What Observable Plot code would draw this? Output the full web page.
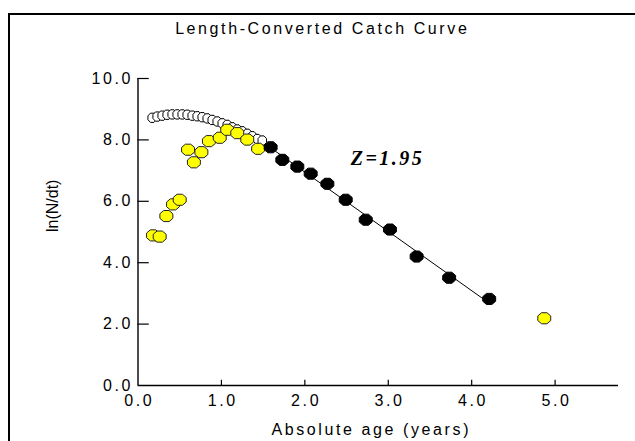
<!DOCTYPE html>
<html>
<head>
<meta charset="utf-8">
<script src="https://cdn.jsdelivr.net/npm/d3@7"></script>
<script src="https://cdn.jsdelivr.net/npm/@observablehq/plot@0.6"></script>
<style>
  html, body { margin: 0; padding: 0; background: #fff; }
  #chart svg { display: block; }
</style>
</head>
<body>
<div id="chart"></div>
<script>
// ---- data ----
const xTicks = [0, 1, 2, 3, 4, 5];
const yTicks = [0, 2, 4, 6, 8, 10];

// open (white) circles
const openAge = [0.17,0.23,0.29,0.35,0.41,0.47,0.53,0.59,0.65,0.71,0.77,0.83,0.89,0.95,1.01,1.07,1.13,1.19,1.25,1.31,1.37,1.43,1.49];
const openLn  = [8.72,8.76,8.79,8.82,8.83,8.83,8.83,8.82,8.79,8.77,8.74,8.70,8.65,8.60,8.54,8.49,8.41,8.34,8.28,8.20,8.12,8.03,7.98];

// yellow points (not used in regression)
const yellowAge = [0.18,0.26,0.34,0.42,0.50,0.60,0.67,0.76,0.85,0.98,1.07,1.19,1.31,1.44,4.87];
const yellowLn  = [4.89,4.85,5.52,5.90,6.05,7.68,7.27,7.60,7.96,8.07,8.33,8.22,8.01,7.71,2.19];

// black points (used in regression)
const blackAge = [1.59,1.73,1.91,2.07,2.27,2.49,2.73,3.02,3.34,3.73,4.21];
const blackLn  = [7.76,7.35,7.13,6.90,6.57,6.05,5.40,5.08,4.20,3.51,2.82];

const title = "Length-Converted Catch Curve";
const xLabel = "Absolute age (years)";
const yLabel = "ln(N/dt)";
const zLabel = "Z=1.95";
const zLabelAge = [2.55];
const zLabelLn = [7.40];

const openPts = openAge.map((x, i) => ({x, y: openLn[i]}));
const yellowPts = yellowAge.map((x, i) => ({x, y: yellowLn[i]}));
const blackPts = blackAge.map((x, i) => ({x, y: blackLn[i]}));

// slightly wide octagonal marker (the original bitmap markers are stretched horizontally)
function oval(rx, ry) {
  return {
    draw(ctx) {
      const n = 8;
      for (let i = 0; i < n; i++) {
        const a = (i + 0.5) * 2 * Math.PI / n;
        const px = rx * Math.cos(a), py = ry * Math.sin(a);
        if (i === 0) ctx.moveTo(px, py); else ctx.lineTo(px, py);
      }
      ctx.closePath();
    }
  };
}

const font = "'Liberation Sans', Arial, sans-serif";

const plot = Plot.plot({
  width: 635,
  height: 441,
  marginLeft: 137.5,
  marginRight: 17,
  marginTop: 78,
  marginBottom: 56,
  style: {background: "#fff", fontFamily: font, fontSize: "16px", color: "#000"},
  x: {domain: [0, 5.76], ticks: xTicks, tickFormat: d => d.toFixed(1)},
  y: {domain: [0, 10], ticks: yTicks, tickFormat: d => d.toFixed(1)},
  marks: [
    // axis lines
    Plot.ruleX([0], {y1: 0, y2: 10, stroke: "#000", strokeWidth: 1.4}),
    Plot.ruleY([0], {x1: 0, x2: 5.76, stroke: "#000", strokeWidth: 1.4}),
    // inward ticks
    Plot.ruleY(yTicks.slice(1), {y: d => d, x1: 0, x2: 0.135, stroke: "#000", strokeWidth: 1.2}),
    Plot.ruleX(xTicks.slice(1), {x: d => d, y1: 0, y2: 0.17, stroke: "#000", strokeWidth: 1.2}),
    Plot.axisX({ticks: xTicks, tickSize: 0, tickPadding: 9, tickFormat: d => d.toFixed(1), label: null, fontSize: 16, dx: 1.3}),
    Plot.axisY({ticks: yTicks, tickSize: 0, tickPadding: 5, tickFormat: d => d.toFixed(1), label: null, fontSize: 16}),
    // data
    Plot.dot(openPts, {x: "x", y: "y", symbol: oval(4.6, 5), r: 5, fill: "#fff", stroke: "#000", strokeWidth: 1}),
    Plot.dot(yellowPts, {x: "x", y: "y", symbol: oval(7, 6), r: 6, fill: "#ffff00", stroke: "#222", strokeWidth: 1}),
    Plot.linearRegressionY(blackPts, {x: "x", y: "y", ci: 0, stroke: "#000", strokeWidth: 1}),
    Plot.dot(blackPts, {x: "x", y: "y", symbol: oval(7, 6), r: 6, fill: "#000", stroke: "#000", strokeWidth: 1}),
    // labels
    Plot.text([zLabel], {x: zLabelAge, y: zLabelLn, text: d => d, textAnchor: "start", fontFamily: "'Liberation Serif', 'Times New Roman', serif", fontWeight: "bold", fontStyle: "italic", fontSize: 20}),
    Plot.text([title], {text: d => d, frameAnchor: "top", dx: -56, dy: -50, fontSize: 16, lineAnchor: "middle"}),
    Plot.text([xLabel], {text: d => d, frameAnchor: "bottom", dx: -7, dy: 44, fontSize: 16, lineAnchor: "middle"}),
    Plot.text([yLabel], {text: d => d, frameAnchor: "left", dx: -85, rotate: -90, fontSize: 16, lineAnchor: "middle"})
  ]
});

document.getElementById("chart").appendChild(plot);

// the original's text is drawn with a horizontally wide bitmap font: widen horizontal text
d3.select(plot).selectAll("text").each(function() {
  const t = this.textContent;
  if (t === yLabel) return;
  d3.select(this).style("letter-spacing", t === zLabel ? "2.5px" : "2.6px");
});

// outer frame (left and top border of the original window)
d3.select(plot).append("path")
  .attr("d", "M9,441V14H635")
  .attr("fill", "none")
  .attr("stroke", "#000")
  .attr("stroke-width", 2);
</script>
</body>
</html>
